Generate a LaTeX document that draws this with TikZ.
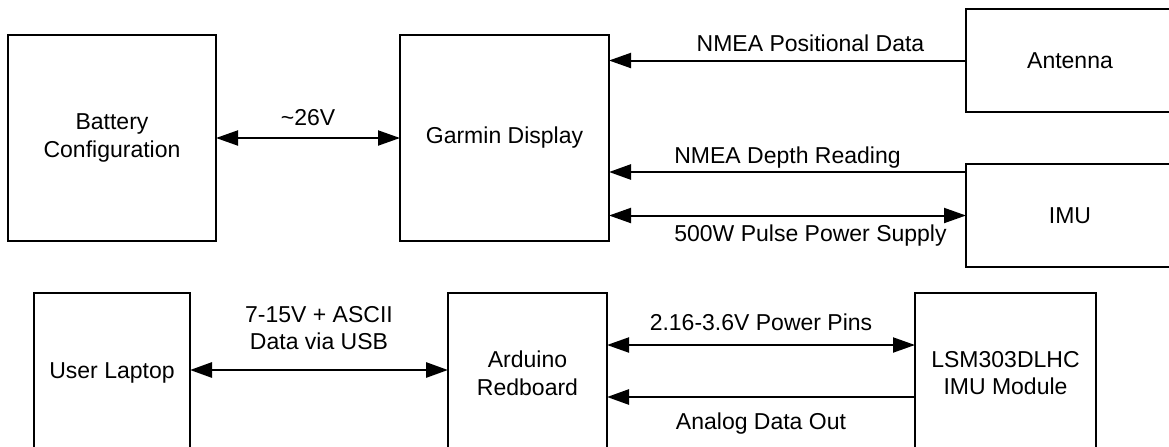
\documentclass[tikz,border=0pt]{standalone}
\usepackage{fontspec}
\setmainfont{Liberation Sans}
\usepackage{tikz}
\usetikzlibrary{arrows.meta, positioning}

\begin{document}
\begin{tikzpicture}[
  node distance=26pt and 92pt,
  blk/.style={rectangle, draw=black, line width=1pt, outer sep=0pt, align=center, font=\fontsize{11.5}{13.8}\selectfont},
  topblk/.style={blk, minimum width=104pt, minimum height=103pt},
  sideblk/.style={blk, minimum width=104pt, minimum height=51.5pt},
  lowblk/.style={blk, minimum height=80pt},
  wire/.style={line width=1pt, -{Triangle[length=11pt, width=7.5pt]}},
  bothwire/.style={line width=1pt, {Triangle[length=11pt, width=7.5pt]}-{Triangle[length=11pt, width=7.5pt]}},
  lab/.style={font=\fontsize{11.5}{13.8}\selectfont, inner sep=0pt, text height=8.5pt, text depth=2.5pt, align=center}
]
\useasboundingbox (0,0) rectangle (584.5pt,-223pt);
\clip (0,0) rectangle (584.5pt,-223pt);

% Boat side
\node[topblk] (bat) at (56pt,-69pt) {Battery\\Configuration};
\node[topblk, minimum width=104.5pt, right=92pt of bat] (gar) {Garmin Display};
\node[sideblk, right=178.5pt of gar, yshift=38.75pt] (ant) {Antenna};
\node[sideblk, below=26pt of ant] (imu) {IMU};

% Bench side
\node[lowblk, minimum width=78pt, below=26pt of bat] (lap) {User Laptop};
\node[lowblk, minimum width=79.5pt, right=129pt of lap] (ard) {Arduino\\Redboard};
\node[lowblk, minimum width=90.5pt, right=154pt of ard] (lsm) {LSM303DLHC\\IMU Module};

% Arrows
\draw[bothwire] (bat.east) -- (gar.west) node[midway, above=3.5pt, lab] {\textasciitilde26V};
\draw[wire] (ant.west) -- (ant.west -| gar.east) node[midway, above=1.5pt, xshift=11.5pt, lab] {NMEA Positional Data};
\draw[wire, line width=1.3pt] ([yshift=-4pt]imu.north west) -- ([yshift=-4pt]imu.north west -| gar.east) node[midway, above=1.35pt, lab] {NMEA Depth Reading};
\draw[bothwire] (gar.east |- imu.west) -- (imu.west) node[midway, below=4.2pt, xshift=11.5pt, lab] {500W Pulse Power Supply};

\draw[bothwire, line width=1.4pt] ([yshift=1.5pt]lap.east) -- ([yshift=1.5pt]lap.east -| ard.west) node[midway, above=7pt, lab] {7-15V + ASCII\\Data via USB};
\draw[bothwire] ([yshift=-26pt]ard.north east) -- ([yshift=-26pt]ard.north east -| lsm.west) node[midway, above=4.15pt, lab] {2.16-3.6V Power Pins};
\draw[wire, line width=1.3pt] ([yshift=-52pt]lsm.north west) -- ([yshift=-52pt]lsm.north west -| ard.east) node[midway, below=7.05pt, lab] {Analog Data Out};

\end{tikzpicture}
\end{document}
